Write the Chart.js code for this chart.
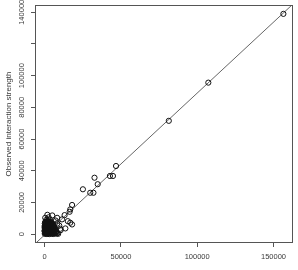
<!DOCTYPE html>
<html>
<head>
<meta charset="utf-8">
<script src="https://cdn.jsdelivr.net/npm/chart.js@4.4.1/dist/chart.umd.min.js"></script>
<style>
    html, body { margin: 0; padding: 0; background: #fff; }
    #wrap { width: 298px; height: 270px; }
</style>
</head>
<body>
<div id="wrap"><canvas id="chart" width="298" height="270"></canvas></div>
<script>
// Values (x = expected, y = observed interaction strength)
const expected = [
    156500, 107300, 81400,
    46800, 32700, 34800, 42800, 44800, 25100, 29900, 32000,
    18000, 16800, 16400, 13100, 5000, 8200, 11400, 15200,
    16800, 18000, 10300, 13600,
    100, 700, 1400, 2200, 3000, 3900, 4800, 5700, 6700, 7800, 8900,
    400, 1100, 1800, 2600, 3400, 4300, 5200, 6200, 7300, 8300,
    300, 1000, 1800, 2600, 3400, 4300, 5200, 6200, 7300,
    0, 700, 1400, 2200, 3000, 3800, 4700, 5600, 6600, 7600,
    0, 800, 1500, 2300, 3200, 4100, 5000, 6000, 7100,
    300, 1100, 1900, 2700, 3600, 4500, 5400, 6400,
    400, 1200, 2000, 2800, 3700, 4600, 5500, 6600,
    0, 800, 1600, 2400, 3300, 4200, 5100, 6000,
    200, 900, 1700, 2500, 3400, 4300, 5300, 6300,
    0, 900, 1700, 2600, 3500, 4400, 5400,
    500, 1300, 2100, 3000, 3900, 4800, 5900,
    600, 1400, 2300, 3200, 4100, 5000,
    100, 1000, 1900, 2700, 3600, 4600, 5600,
    300, 1100, 2000, 2900, 3900,
    600, 1500, 2400, 3300, 4400,
    1100, 2200, 3500,
    400, 2600, 1800, 7200, 9600, 10500, 8300
];
const observed = [
    139000, 95600, 71500,
    43000, 35600, 31500, 36700, 36700, 28300, 26100, 26100,
    18400, 15600, 14100, 12000, 11800, 10300, 9300, 8200,
    7200, 6100, 3400, 3600,
    200, 400, 100, 300, 0, 500, 200, 100, 400, 300, 200,
    700, 600, 800, 500, 700, 800, 600, 700, 900, 600,
    1200, 1000, 1400, 1100, 1300, 900, 1200, 1500, 1100,
    1800, 1700, 1900, 1800, 1600, 1900, 1700, 1800, 2000, 1700,
    2300, 2500, 2100, 2400, 2200, 2600, 2300, 2000, 2400,
    2900, 3000, 2800, 2900, 3000, 2800, 2900, 3000,
    3400, 3200, 3600, 3300, 3500, 3400, 3100, 3600,
    4000, 3900, 4100, 4000, 3900, 4100, 4000, 3900,
    4500, 4700, 4300, 4600, 4400, 4800, 4500, 4300,
    5100, 5000, 5200, 5100, 5000, 5200, 5000,
    5600, 5400, 5800, 5500, 5700, 5600, 5300,
    6200, 6100, 6200, 6100, 6300, 6100,
    6700, 6900, 6500, 6800, 6600, 7000, 6400,
    7300, 7200, 7400, 7300, 7200,
    7800, 8000, 7700, 7900, 7600,
    9000, 8800, 9200,
    10300, 10600, 12200, 8600, 5400, 2500, 6700
];

// Fitted line through the cloud
const FIT_SLOPE = 0.895;
const FIT_INTERCEPT = -500;

// Axis limits and ticks
const X_MIN = -6300, X_MAX = 162800;
const Y_MIN = -5600, Y_MAX = 144600;
const X_TICKS = [0, 50000, 100000, 150000];
const Y_TICKS = [0, 20000, 40000, 60000, 80000, 100000, 120000, 140000];
const Y_LABELS = [0, 20000, 40000, 60000, 80000, 100000, 140000];
const Y_TITLE = 'Observed interaction strength';

const TEXT_COLOR = '#3a3a3a';
const FONT = '"Liberation Sans", Arial, sans-serif';

const points = expected.map((x, i) => ({ x: x, y: observed[i] }));
const fitLine = [X_MIN, X_MAX].map(x => ({ x: x, y: FIT_SLOPE * x + FIT_INTERCEPT }));

// Draws the box, rotated y labels and the y title
const framePlugin = {
    id: 'frame',
    afterDraw(chart) {
        const ctx = chart.ctx;
        const area = chart.chartArea;
        const yScale = chart.scales.y;
        ctx.save();
        ctx.strokeStyle = '#555';
        ctx.lineWidth = 1;
        ctx.strokeRect(area.left + 0.5, area.top + 0.5, area.right - area.left - 1, area.bottom - area.top - 1);

        ctx.fillStyle = TEXT_COLOR;
        ctx.font = '7.5px ' + FONT;
        ctx.textAlign = 'center';
        ctx.textBaseline = 'middle';
        Y_LABELS.forEach(v => {
            const py = yScale.getPixelForValue(v);
            ctx.save();
            ctx.translate(22, py);
            ctx.rotate(-Math.PI / 2);
            ctx.fillText(String(v), 0, 0);
            ctx.restore();
        });

        ctx.font = '8px ' + FONT;
        ctx.translate(9, (area.top + area.bottom) / 2);
        ctx.rotate(-Math.PI / 2);
        ctx.fillText(Y_TITLE, 0, 0);
        ctx.restore();
    }
};

const ctx = document.getElementById('chart').getContext('2d');
new Chart(ctx, {
    type: 'scatter',
    data: {
        datasets: [{
            data: points,
            pointStyle: 'circle',
            pointRadius: 2.6,
            pointBorderWidth: 1,
            pointBorderColor: '#111',
            pointBackgroundColor: 'rgba(0,0,0,0)'
        }, {
            data: fitLine,
            showLine: true,
            borderColor: '#666',
            borderWidth: 1,
            pointRadius: 0
        }]
    },
    options: {
        responsive: false,
        animation: false,
        events: [],
        layout: { padding: { top: 3, right: 3, left: 0, bottom: 0 } },
        plugins: {
            legend: { display: false },
            tooltip: { enabled: false }
        },
        scales: {
            x: {
                type: 'linear',
                min: X_MIN,
                max: X_MAX,
                afterBuildTicks: scale => { scale.ticks = X_TICKS.map(v => ({ value: v })); },
                afterFit: scale => { scale.height = 27; },
                grid: { drawOnChartArea: false, drawTicks: true, tickLength: 4, color: '#555' },
                border: { display: false },
                ticks: {
                    maxRotation: 0,
                    padding: 5,
                    color: TEXT_COLOR,
                    font: { size: 7.5, family: FONT },
                    callback: value => String(value)
                }
            },
            y: {
                type: 'linear',
                min: Y_MIN,
                max: Y_MAX,
                afterBuildTicks: scale => { scale.ticks = Y_TICKS.map(v => ({ value: v })); },
                afterFit: scale => { scale.width = 35; },
                grid: { drawOnChartArea: false, drawTicks: true, tickLength: 4, color: '#555' },
                border: { display: false },
                ticks: { display: false }
            }
        }
    },
    plugins: [framePlugin]
});
</script>
</body>
</html>
